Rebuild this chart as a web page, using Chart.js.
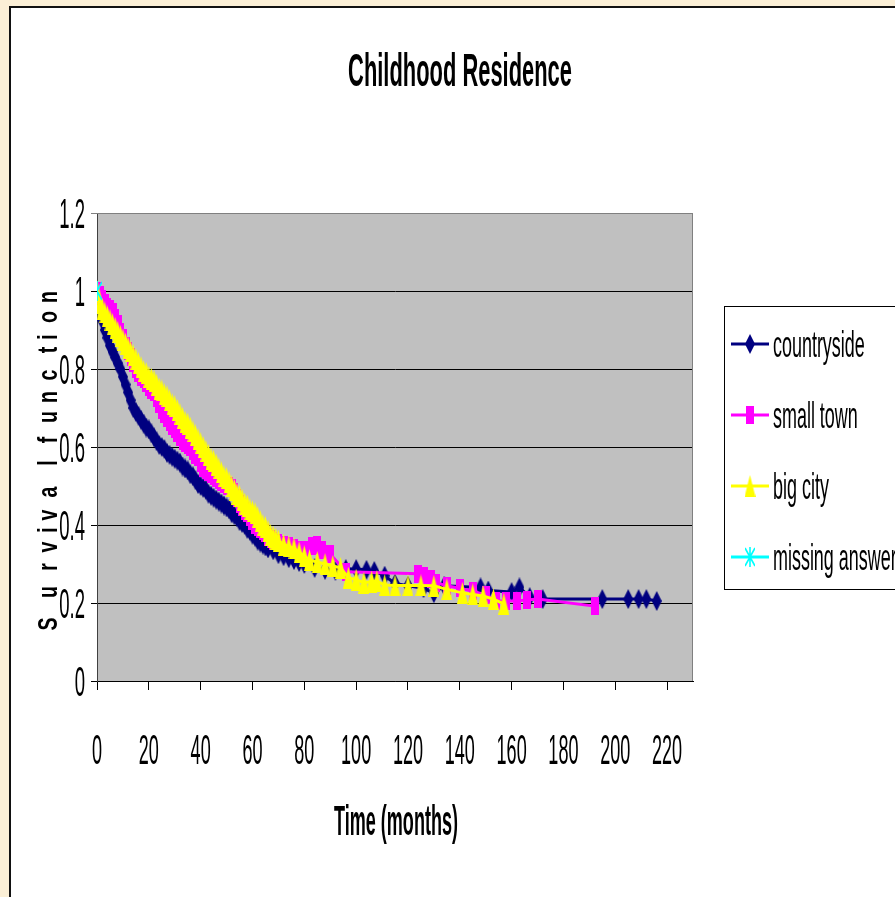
<!DOCTYPE html>
<html>
<head>
<meta charset="utf-8">
<script src="https://cdn.jsdelivr.net/npm/chart.js@4.4.1/dist/chart.umd.min.js"></script>
<style>
  html, body { margin: 0; padding: 0; }
  body { width: 895px; height: 897px; overflow: hidden; background: #fbefd6; position: relative; }
  #panel { position: absolute; left: 9px; top: 6px; width: 900px; height: 900px; background: #fff;
           border-left: 2px solid #111; border-top: 2px solid #111; }
  #cv { position: absolute; left: 0; top: 0; }
</style>
</head>
<body>
<div id="panel"></div>
<canvas id="cv" width="895" height="897"></canvas>
<script>
// countryside
const countryT = [0,1,2,3,4,5,6,7,8,9,10,11,12,13,14,15,16,17,18,19,20,21,22,23,24,25,26,27,28,29,30,31,32,33,34,35,36,37,38,39,40,41,42,43,44,45,46,47,48,49,50,51,52,53,54,55,56,57,58,59,60,61,62,63,64,65,66,68,70,72,74,76,78,80,84,88,92,96,100,104,107,111,115,120,126,130,134,148,151,160,163,167,172,195,205,209,212,216];
const countryS = [1,0.96,0.925,0.9,0.88,0.86,0.845,0.83,0.815,0.8,0.78,0.76,0.74,0.72,0.7,0.69,0.68,0.67,0.66,0.65,0.645,0.635,0.625,0.615,0.605,0.6,0.595,0.585,0.58,0.575,0.57,0.565,0.56,0.55,0.545,0.54,0.53,0.525,0.515,0.505,0.5,0.495,0.49,0.48,0.475,0.47,0.465,0.46,0.455,0.45,0.445,0.44,0.43,0.425,0.42,0.41,0.405,0.4,0.39,0.385,0.375,0.37,0.36,0.355,0.35,0.345,0.34,0.335,0.325,0.32,0.315,0.31,0.305,0.3,0.29,0.285,0.283,0.287,0.287,0.285,0.282,0.27,0.25,0.244,0.238,0.225,0.244,0.24,0.232,0.228,0.24,0.215,0.21,0.21,0.21,0.21,0.21,0.205];

// small town
const townT = [0,1,2,3,4,5,6,7,8,9,10,11,12,13,14,15,16,17,18,19,20,21,22,23,24,25,26,27,28,29,30,31,32,33,34,35,36,37,38,39,40,41,42,43,44,45,46,47,48,49,50,51,52,53,54,55,56,57,58,59,60,61,62,63,64,65,66,67,68,70,72,74,76,78,80,83,85,87,90,96,124,126,129,131,135,140,145,150,154,158,162,166,170,192];
const townS = [1,0.99,0.98,0.97,0.96,0.955,0.945,0.93,0.915,0.895,0.88,0.86,0.845,0.83,0.815,0.8,0.79,0.78,0.775,0.765,0.755,0.745,0.74,0.725,0.71,0.695,0.685,0.675,0.665,0.655,0.645,0.635,0.625,0.615,0.61,0.605,0.6,0.59,0.58,0.575,0.56,0.545,0.54,0.535,0.53,0.525,0.52,0.515,0.51,0.505,0.5,0.5,0.495,0.485,0.47,0.455,0.445,0.435,0.43,0.42,0.41,0.4,0.395,0.39,0.385,0.38,0.37,0.365,0.36,0.355,0.35,0.345,0.34,0.335,0.335,0.345,0.35,0.335,0.326,0.28,0.275,0.27,0.262,0.252,0.244,0.238,0.23,0.221,0.205,0.205,0.205,0.208,0.21,0.192];

// big city
const cityT = [0,1,2,3,4,5,6,7,8,9,10,11,12,13,14,15,16,17,18,19,20,21,22,23,24,25,26,27,28,29,30,31,32,33,34,35,36,37,38,39,40,41,42,43,44,45,46,47,48,49,50,51,52,53,54,55,56,57,58,59,60,61,62,63,64,65,66,67,68,69,70,72,74,76,78,80,82,85,88,91,94,97,100,103,106,108,111,115,120,125,130,135,141,145,149,153,157];
const cityS = [1,0.97,0.955,0.945,0.935,0.925,0.915,0.905,0.895,0.885,0.875,0.865,0.855,0.845,0.835,0.825,0.815,0.805,0.795,0.79,0.78,0.775,0.77,0.76,0.75,0.745,0.735,0.73,0.72,0.71,0.705,0.695,0.685,0.675,0.665,0.66,0.65,0.64,0.63,0.62,0.61,0.6,0.59,0.58,0.57,0.565,0.555,0.545,0.535,0.525,0.52,0.51,0.5,0.49,0.48,0.475,0.465,0.455,0.45,0.44,0.435,0.43,0.42,0.41,0.4,0.395,0.385,0.375,0.37,0.365,0.36,0.35,0.345,0.34,0.33,0.32,0.31,0.305,0.3,0.295,0.29,0.265,0.26,0.252,0.255,0.256,0.246,0.245,0.245,0.245,0.244,0.235,0.226,0.222,0.218,0.21,0.198];

// missing answer
const missingT = [0];
const missingS = [1];

const seriesNames = ["countryside", "small town", "big city", "missing answer"];
const seriesColors = ["#000080", "#ff00ff", "#ffff00", "#00ffff"];

function pts(t, s) { return t.map((v, i) => ({ x: v, y: s[i] })); }

function mk(w, h, draw) {
  const c = document.createElement("canvas");
  c.width = w; c.height = h;
  draw(c.getContext("2d"), w, h);
  return c;
}
const mDiamond = mk(10, 20, (g, w, h) => {
  g.fillStyle = seriesColors[0];
  g.beginPath(); g.moveTo(w / 2, 0); g.lineTo(w, h / 2); g.lineTo(w / 2, h); g.lineTo(0, h / 2); g.closePath(); g.fill();
});
const mSquare = mk(8, 18, (g, w, h) => { g.fillStyle = seriesColors[1]; g.fillRect(0, 0, w, h); });
const mTriangle = mk(11, 22, (g, w, h) => {
  g.fillStyle = seriesColors[2];
  g.beginPath(); g.moveTo(w / 2, 0); g.lineTo(w, h); g.lineTo(0, h); g.closePath(); g.fill();
});
const mStar = mk(10, 20, (g, w, h) => {
  g.strokeStyle = seriesColors[3]; g.lineWidth = 1.6;
  g.beginPath();
  g.moveTo(0, 1); g.lineTo(w, h - 1);
  g.moveTo(w, 1); g.lineTo(0, h - 1);
  g.moveTo(w / 2, 0); g.lineTo(w / 2, h);
  g.stroke();
});
const markers = [mDiamond, mSquare, mTriangle, mStar];

const FONT = "'Liberation Sans', Arial, sans-serif";

function sText(ctx, str, x, y, size, bold, sx, align) {
  ctx.save();
  ctx.translate(x, y);
  ctx.scale(sx, 1);
  ctx.font = (bold ? "bold " : "") + size + "px " + FONT;
  ctx.textAlign = align;
  ctx.textBaseline = "alphabetic";
  ctx.fillStyle = "#000";
  ctx.fillText(str, 0, 0);
  ctx.restore();
}

const plotBg = {
  id: "plotBg",
  beforeDraw(chart) {
    const { ctx, chartArea: a } = chart;
    ctx.save();
    ctx.fillStyle = "#c0c0c0";
    ctx.fillRect(a.left, a.top, a.right - a.left, a.bottom - a.top);
    ctx.restore();
  },
  beforeDatasetsDraw(chart) {
    const { ctx, chartArea: a } = chart;
    ctx.save();
    ctx.strokeStyle = "#808080";
    ctx.lineWidth = 1;
    ctx.beginPath();
    ctx.moveTo(a.left, a.top + 0.5); ctx.lineTo(a.right - 0.5, a.top + 0.5); ctx.lineTo(a.right - 0.5, a.bottom);
    ctx.stroke();
    ctx.restore();
  }
};

const texts = {
  id: "texts",
  afterDraw(chart) {
    const ctx = chart.ctx;
    const xs = chart.scales.x, ys = chart.scales.y;

    // vertical axis title, letters spread out (drawn first, tick labels overlap it)
    const yt = "Survival function";
    const yPos = [624, 592, 567, 547, 530, 515, 492, 463, 452, 440, 417, 397, 375, 350, 337, 317, 297];
    for (let i = 0; i < yt.length; i++) {
      if (yt[i] === " ") continue;
      ctx.save();
      ctx.translate(57, yPos[i]);
      ctx.rotate(-Math.PI / 2);
      ctx.scale(0.7, 1);
      ctx.font = "bold 28px " + FONT;
      ctx.textAlign = "center";
      ctx.textBaseline = "alphabetic";
      ctx.fillStyle = "#000";
      ctx.fillText(yt[i], 0, 0);
      ctx.restore();
    }

    ys.ticks.forEach(t => sText(ctx, t.label, 85, ys.getPixelForValue(t.value) + 15, 42, false, 0.44, "right"));
    xs.ticks.forEach(t => sText(ctx, t.label, xs.getPixelForValue(t.value), 764, 42, false, 0.43, "center"));

    sText(ctx, "Childhood Residence", 460, 86, 46, true, 0.476, "center");
    sText(ctx, "Time (months)", 396, 835, 42, true, 0.43, "center");

    // legend
    ctx.save();
    ctx.strokeStyle = "#000";
    ctx.lineWidth = 1;
    ctx.strokeRect(724.5, 306.5, 220, 283);
    seriesNames.forEach((name, i) => {
      const cy = 344 + i * 71;
      ctx.strokeStyle = seriesColors[i];
      ctx.lineWidth = 3;
      ctx.beginPath(); ctx.moveTo(731, cy); ctx.lineTo(769, cy); ctx.stroke();
      const m = markers[i];
      ctx.drawImage(m, 750 - m.width / 2, cy - m.height / 2);
      sText(ctx, name, 773, cy + 13, 37, false, 0.485, "left");
    });
    ctx.restore();
  }
};

const tArr = [countryT, townT, cityT, missingT];
const sArr = [countryS, townS, cityS, missingS];

new Chart(document.getElementById("cv"), {
  type: "line",
  data: {
    datasets: seriesNames.map((name, i) => ({
      label: name,
      data: pts(tArr[i], sArr[i]),
      borderColor: seriesColors[i],
      backgroundColor: seriesColors[i],
      borderWidth: 3,
      pointStyle: markers[i],
      pointRadius: 5,
      tension: 0,
      fill: false,
      order: 4 - i
    }))
  },
  options: {
    responsive: false,
    animation: false,
    events: [],
    layout: { padding: { top: 213, left: 0, right: 202, bottom: 116 } },
    plugins: { legend: { display: false }, title: { display: false }, tooltip: { enabled: false } },
    scales: {
      x: {
        type: "linear",
        min: 0, max: 230,
        afterFit: s => { s.height = 100; },
        ticks: { stepSize: 20, includeBounds: false, color: "rgba(0,0,0,0)" },
        grid: { drawOnChartArea: false, drawTicks: true, tickLength: 9, color: "#000" },
        border: { color: "#000", width: 1 }
      },
      y: {
        min: 0, max: 1.2,
        afterFit: s => { s.width = 97; },
        ticks: { stepSize: 0.2, color: "rgba(0,0,0,0)", callback: v => String(Number(v.toFixed(1))) },
        grid: { tickLength: 6, color: c => (c.tick && c.tick.value >= 1.19 ? "#808080" : "#000") },
        border: { color: "#404040", width: 1 }
      }
    }
  },
  plugins: [plotBg, texts]
});
</script>
</body>
</html>
